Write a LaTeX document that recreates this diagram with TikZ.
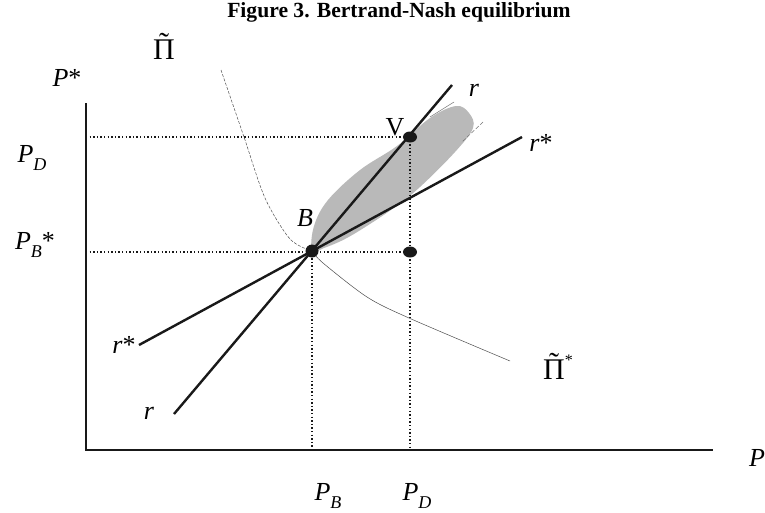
\documentclass[tikz,border=0pt]{standalone}
\usepackage{fontspec}
\setmainfont{Liberation Serif}
\usetikzlibrary{shapes.geometric}
\newcommand\mysub[1]{\raisebox{-0.28em}{\fontsize{18}{18}\selectfont\textit{#1}}}
\newcommand\tpi{\accent"02DC Π}
\begin{document}
\begin{tikzpicture}[x=1pt,y=-1pt,
  lab/.style={inner sep=0pt,font=\fontsize{26}{30}\selectfont},
  pilab/.style={inner sep=0pt,font=\fontsize{30}{34}\selectfont},
  axis/.style={line width=2pt,black!90},
  resp/.style={line width=2.4pt,black!90},
  guide/.style={line width=1.4pt,black!90,dash pattern=on 1.4pt off 2.2pt},
  iso/.style={line width=0.5pt,black!70},
  dot/.style={fill=black!90,inner sep=0pt,ellipse,minimum width=14pt,minimum height=11pt},
]
\useasboundingbox (0,0) rectangle (765,512);
% title
\node[inner sep=0pt,font=\fontsize{21.6}{26}\selectfont\bfseries] (title) at (399,12) {Figure 3. Bertrand-Nash equilibrium};
% coordinates
\coordinate (O) at (86,450);
\coordinate (Ytop) at (86,103);
\coordinate (Xend) at (713,450);
\coordinate (B) at (312,251);
\coordinate (V) at (410,137);
\coordinate (Q) at (410,252);
\coordinate (PDy) at (86,137);
\coordinate (PBy) at (86,252);
\coordinate (PBx) at (312,450);
\coordinate (PDx) at (410,450);
\coordinate (r1) at (174,414);
\coordinate (r2) at (452,85);
\coordinate (s1) at (139,345);
\coordinate (s2) at (522,137);
% gray region
\fill[gray!55!white] plot[smooth cycle,tension=0.6] coordinates {(312,251) (314,226) (328,200) (360,170) (397,146) (430,118) (456,106) (469,113) (473,128) (455,152) (420,187) (395,207) (370,224) (345,239) (324,248)};
\coordinate (t1a) at (454,102);
\coordinate (t1b) at (430,117);
\coordinate (t2a) at (483,122);
\coordinate (t2b) at (462,142);
\draw[line width=0.5pt,black!55] (t1a) -- (t1b);
\draw[line width=0.5pt,black!55,dash pattern=on 4pt off 2pt] (t2a) -- (t2b);
% axes
\draw[axis] (Ytop) -- (O) -- (Xend);
% guides
\draw[guide] (PDy) -- (V);
\draw[guide] (PBy) -- (Q);
\draw[guide] (B) -- (PBx);
\draw[guide] (V) -- (PDx);
% iso-profit curves
\coordinate (c0) at (221,70);
\draw[iso,dash pattern=on 3pt off 1.5pt] plot[smooth] coordinates {(c0) (244,137) (265,198) (290,239) (B)};
\coordinate (c1) at (510,361);
\draw[iso] plot[smooth] coordinates {(B) (323,263) (367,297) (409,318) (c1)};
% reaction functions
\draw[resp] (r1) -- (r2);
\draw[resp] (s1) -- (s2);
% points
\node[fill=black!90,inner sep=0pt,circle,minimum size=13pt] (Bpt) at (B) {};
\node[dot] (Vpt) at (V) {};
\node[dot] (Qpt) at (Q) {};
% labels
\node[lab] (lPs) at (67,78) {\textit{P}*};
\node[lab] (lPD) at (32,158) {\textit{P}\mysub{D}};
\node[lab] (lPBs) at (35,245) {\textit{P}\mysub{B}*};
\node[lab] (lPB) at (328,496) {\textit{P}\mysub{B}};
\node[lab] (lPDx) at (417,496) {\textit{P}\mysub{D}};
\node[lab] (lP) at (757,458) {\textit{P}};
\node[lab] (lB) at (305,218) {\textit{B}};
\node[lab] (lV) at (395,127) {V};
\node[lab] (lr1) at (474,90) {\textit{r}};
\node[lab] (ls1) at (541,143) {\textit{r}*};
\node[lab] (ls2) at (124,345) {\textit{r}*};
\node[lab] (lr2) at (149,413) {\textit{r}};
\node[pilab] (lPi) at (164,46) {\tpi};
\node[pilab] (lPis) at (558,366) {\tpi\raisebox{0.45em}{\fontsize{16}{16}\selectfont *}};
\end{tikzpicture}
\end{document}
